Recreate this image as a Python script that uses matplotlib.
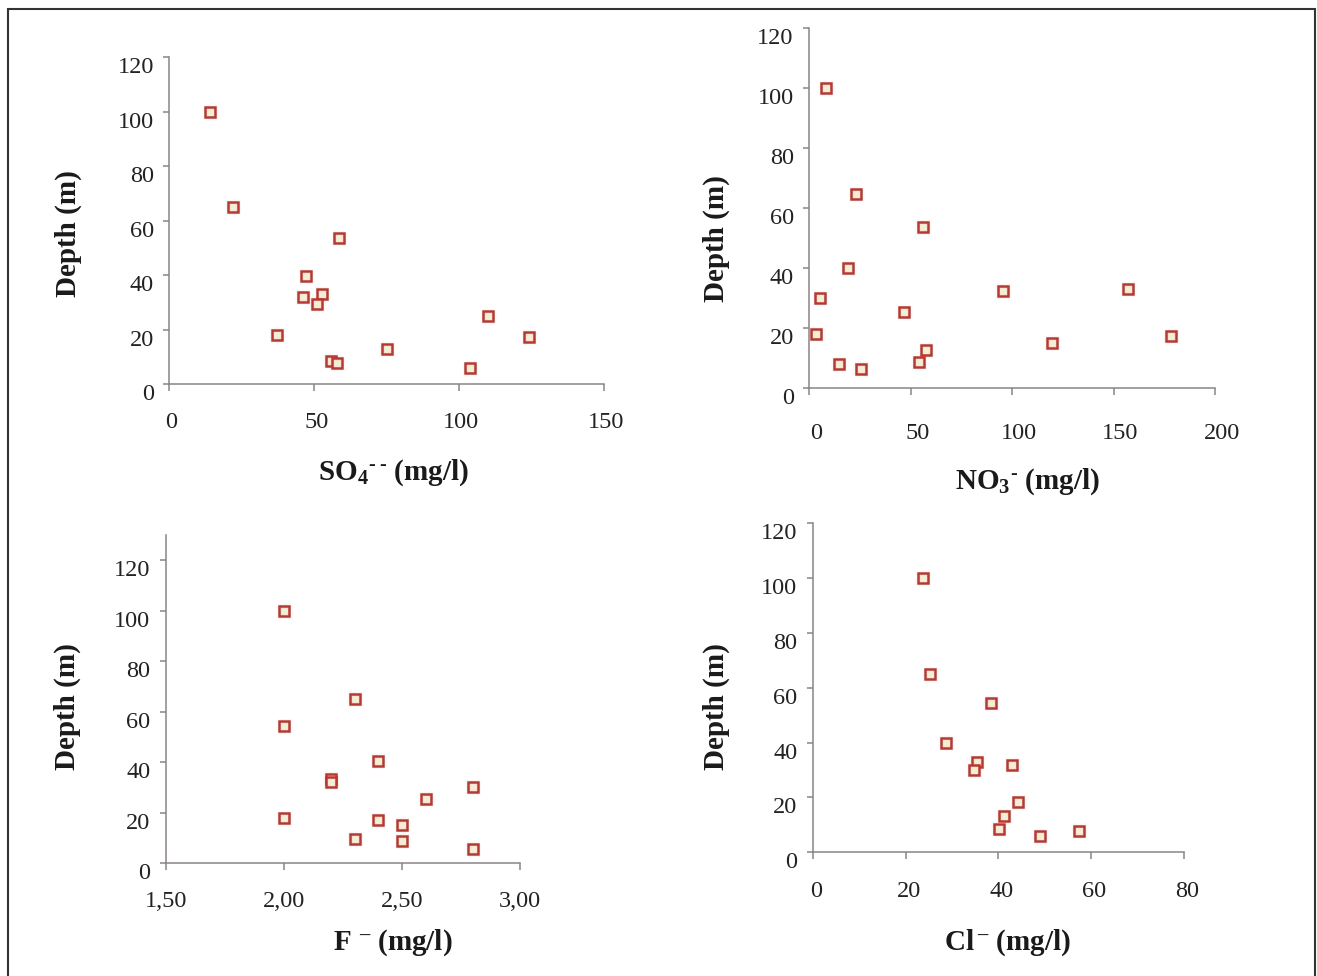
import matplotlib.pyplot as plt
import matplotlib.transforms as mtransforms
from matplotlib.patches import Rectangle

# depth (m) against ion concentration (mg/l), one list pair per panel
so4 = [13.9, 22.0, 58.4, 47.0, 46.2, 52.7, 51.0, 37.3, 110.0, 123.9, 75.2, 55.9, 57.7, 103.7]
so4_depth = [100, 65.2, 53.8, 39.9, 32.0, 33.0, 29.4, 18.2, 25.1, 17.5, 12.8, 8.7, 7.7, 6.0]

no3 = [8.2, 23.0, 56.2, 19.4, 5.6, 47.0, 3.4, 14.8, 25.5, 54.0, 57.6, 95.4, 119.5, 157.3, 178.3]
no3_depth = [100, 64.8, 53.8, 40.2, 30.1, 25.3, 18.2, 8.0, 6.3, 8.7, 12.6, 32.3, 15.0, 33.2, 17.4]

fl = [2.0, 2.0, 2.0, 2.3, 2.2, 2.2, 2.4, 2.4, 2.3, 2.5, 2.5, 2.6, 2.8, 2.8]
fl_depth = [100, 54.5, 18.1, 64.9, 33.2, 32.0, 40.5, 17.1, 9.6, 15.3, 8.7, 25.6, 30.2, 5.8]

cl = [23.7, 25.2, 38.3, 28.8, 35.3, 34.7, 42.8, 44.3, 41.2, 40.2, 48.9, 57.4]
cl_depth = [100, 64.9, 54.6, 39.8, 32.9, 30.2, 32.0, 18.2, 13.1, 8.6, 6.1, 7.9]

depth_ticks = [0, 20, 40, 60, 80, 100, 120]

W, H = 1317, 976
plt.rcParams['font.family'] = ['Liberation Serif', 'DejaVu Serif']
plt.rcParams['mathtext.fontset'] = 'custom'
plt.rcParams['mathtext.rm'] = 'Liberation Serif:bold'
plt.rcParams['mathtext.it'] = 'Liberation Serif:bold'
plt.rcParams['mathtext.bf'] = 'Liberation Serif:bold'

fig = plt.figure(figsize=(W / 100, H / 100), dpi=100)

# outer frame
fig.patches.append(Rectangle((7.5 / W, -0.02), 1307 / W, 1 - 9 / H + 0.02,
                             transform=fig.transFigure, fill=False,
                             edgecolor='#333333', linewidth=1.5))

spine_col = '#8c8484'


def px_shift(dx, dy):
    return mtransforms.ScaledTranslation(dx / 100, -dy / 100, fig.dpi_scale_trans)


def px_axes(left, right, bottom, top):
    return fig.add_axes([left / W, 1 - bottom / H, (right - left) / W, (bottom - top) / H])


def style(ax, xlim, ylim, xticks, xlabels, xpad, xshift=0):
    ax.set_xlim(*xlim)
    ax.set_ylim(*ylim)
    ax.set_xticks(xticks)
    ax.set_xticklabels(xlabels)
    ax.set_yticks(depth_ticks)
    for s in ['top', 'right']:
        ax.spines[s].set_visible(False)
    for s in ['left', 'bottom']:
        ax.spines[s].set_color(spine_col)
        ax.spines[s].set_linewidth(1.1)
    ax.tick_params(axis='y', length=4, width=1.1, color=spine_col, pad=7,
                   labelsize=17.5, labelcolor='#222222')
    ax.tick_params(axis='x', length=5, width=1.1, color=spine_col, pad=xpad,
                   labelsize=17.5, labelcolor='#222222')
    for lab in ax.get_yticklabels():
        lab.set_transform(lab.get_transform() + px_shift(0, 8))
    if xshift:
        for lab in ax.get_xticklabels():
            lab.set_transform(lab.get_transform() + px_shift(xshift, 0))
    ax.patch.set_alpha(0)


def scatter(ax, x, y):
    ax.plot(x, y, linestyle='none', marker='s', markersize=7.8,
            markerfacecolor='#eef0d8', markeredgecolor='#c8302a',
            markeredgewidth=1.8, clip_on=False)


ax1 = px_axes(169.3, 604.3, 384.3, 57.3)
scatter(ax1, so4, so4_depth)
style(ax1, (0, 150), (0, 120), [0, 50, 100, 150], ['0', '50', '100', '150'], 15, 2)

ax2 = px_axes(809, 1215, 388.3, 28.3)
scatter(ax2, no3, no3_depth)
style(ax2, (0, 200), (0, 120), [0, 50, 100, 150, 200], ['0', '50', '100', '150', '200'], 20, 7)

ax3 = px_axes(165.7, 520, 863.3, 534.7)
scatter(ax3, fl, fl_depth)
style(ax3, (1.5, 3.0), (0, 130), [1.5, 2.0, 2.5, 3.0], ['1,50', '2,00', '2,50', '3,00'], 15)

ax4 = px_axes(812.7, 1184.3, 852.3, 523.3)
scatter(ax4, cl, cl_depth)
style(ax4, (0, 80), (0, 120), [0, 20, 40, 60, 80], ['0', '20', '40', '60', '80'], 16, 3)

# axis titles placed where they sit in the figure
lab_kw = dict(fontsize=21, fontweight='bold', color='#1a1a1a', ha='center', va='center')
fig.text(394 / W, 1 - 473 / H, 'SO$_4$$^{\u2010\u2009\u2010}$ (mg/l)', **lab_kw)
fig.text(1028 / W, 1 - 482 / H, 'NO$_3$$^{\u2010}$ (mg/l)', **lab_kw)
fig.text(393 / W, 1 - 943 / H, 'F$^{\u2009\u2009\u2013}$ (mg/l)', **lab_kw)
fig.text(1007 / W, 1 - 943 / H, 'Cl$^{\u2009\u2013}$ (mg/l)', **lab_kw)
for x, y in [(68, 234), (716, 239), (67, 707), (716, 707)]:
    fig.text(x / W, 1 - y / H, 'Depth (m)', rotation=90, **lab_kw)

fig.savefig('out.png', dpi=100)
